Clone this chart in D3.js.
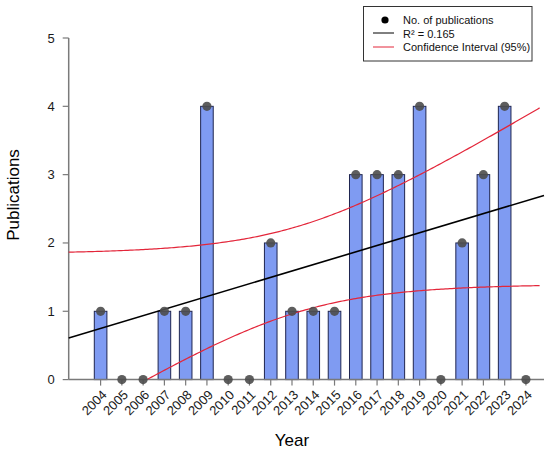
<!DOCTYPE html>
<html>
<head>
<meta charset="utf-8">
<script src="https://cdn.jsdelivr.net/npm/d3@7"></script>
<style>
  body { margin: 0; background: #fff; }
  text { font-family: Arial, "Liberation Sans", sans-serif; }
</style>
</head>
<body>
<svg id="chart" width="550" height="452"></svg>
<script>
var years = [2004, 2005, 2006, 2007, 2008, 2009, 2010, 2011, 2012, 2013, 2014,
  2015, 2016, 2017, 2018, 2019, 2020, 2021, 2022, 2023, 2024];
var publications = [1, 0, 0, 1, 1, 4, 0, 0, 2, 1, 1, 1, 3, 3, 3, 4, 0, 2, 3, 4, 0];
var yTicks = [0, 1, 2, 3, 4, 5];
var legendLabels = ["No. of publications", "R\u00b2 = 0.165", "Confidence Interval (95%)"];
// t(0.975, df = 19)
var tValue = 2.093;

var barColor = "#7f9bf2";
var dotColor = "#4d4d4d";
var ciColor = "#e3263a";
var axisColor = "#7a7a7a";

var svg = d3.select("#chart");
var plotLeft = 68.7, plotRight = 544, plotTop = 38, plotBottom = 379.6;

var xBar = d3.scaleLinear().domain([2002.5, 2024.85]).range([plotLeft, plotRight]);
// the fitted line sits on its own continuous axis
var xFit = d3.scaleLinear().domain([2003.5, 2025.2]).range([plotLeft, plotRight]);
var y = d3.scaleLinear().domain([0, 5]).range([plotBottom, plotTop]);

// least squares fit
var n = years.length;
var mx = d3.mean(years);
var my = d3.mean(publications);
var sxx = 0, sxy = 0, syy = 0;
for (var i = 0; i < n; i++) {
  sxx += (years[i] - mx) * (years[i] - mx);
  sxy += (years[i] - mx) * (publications[i] - my);
  syy += (publications[i] - my) * (publications[i] - my);
}
var slope = sxy / sxx;
var intercept = my - slope * mx;
var s = Math.sqrt((syy - (sxy * sxy) / sxx) / (n - 2));

function fit(u) {
  return intercept + slope * u;
}
function halfWidth(u) {
  return tValue * s * Math.sqrt(1 / n + ((u - mx) * (u - mx)) / sxx);
}

var ciPoints = d3.range(2003.5, 2025.001, 0.1).map(function (u) {
  return { u: u, hi: fit(u) + halfWidth(u), lo: fit(u) - halfWidth(u) };
});

// bars
svg.append("g")
  .selectAll("rect")
  .data(years)
  .enter()
  .append("rect")
  .attr("x", function (d) { return xBar(d) - 6.3; })
  .attr("width", 12.6)
  .attr("y", function (d, i) { return y(publications[i]); })
  .attr("height", function (d, i) { return y(0) - y(publications[i]); })
  .style("fill", barColor)
  .style("stroke", "#1f2550")
  .style("stroke-width", 1);

// axes
var yAxis = svg.append("g").attr("transform", "translate(" + plotLeft + ",0)");
yAxis.append("line")
  .attr("y1", plotTop).attr("y2", plotBottom)
  .style("stroke", axisColor).style("stroke-width", 1.5);
yAxis.selectAll(".ytick")
  .data(yTicks)
  .enter()
  .append("line")
  .attr("x1", -6).attr("x2", 0)
  .attr("y1", function (d) { return y(d); })
  .attr("y2", function (d) { return y(d); })
  .style("stroke", axisColor).style("stroke-width", 1.2);
yAxis.selectAll(".ylabel")
  .data(yTicks)
  .enter()
  .append("text")
  .attr("x", -14)
  .attr("y", function (d) { return y(d) + 4.5; })
  .attr("text-anchor", "end")
  .style("font-size", "13px")
  .style("fill", "#1a1a1a")
  .text(function (d) { return d; });

var xAxis = svg.append("g").attr("transform", "translate(0," + plotBottom + ")");
xAxis.append("line")
  .attr("x1", plotLeft).attr("x2", plotRight)
  .style("stroke", axisColor).style("stroke-width", 1.5);
xAxis.selectAll(".xtick")
  .data(years)
  .enter()
  .append("line")
  .attr("x1", function (d) { return xBar(d); })
  .attr("x2", function (d) { return xBar(d); })
  .attr("y1", 0).attr("y2", 6)
  .style("stroke", axisColor).style("stroke-width", 1.2);
xAxis.selectAll(".xlabel")
  .data(years)
  .enter()
  .append("text")
  .attr("text-anchor", "end")
  .attr("transform", function (d) {
    return "translate(" + (xBar(d) + 7) + ",16) rotate(-45)";
  })
  .style("font-size", "13px")
  .style("fill", "#1a1a1a")
  .text(function (d) { return d; });

svg.append("text")
  .attr("x", 292).attr("y", 446)
  .attr("text-anchor", "middle")
  .style("font-size", "17px")
  .text("Year");
svg.append("text")
  .attr("transform", "translate(19,195) rotate(-90)")
  .attr("text-anchor", "middle")
  .style("font-size", "17px")
  .text("Publications");

// confidence band
var upper = d3.line()
  .x(function (d) { return xFit(d.u); })
  .y(function (d) { return y(d.hi); });
var lower = d3.line()
  .defined(function (d) { return d.lo >= 0; })
  .x(function (d) { return xFit(d.u); })
  .y(function (d) { return y(d.lo); });
svg.append("path").attr("d", upper(ciPoints))
  .style("fill", "none").style("stroke", ciColor).style("stroke-width", 1.2);
svg.append("path").attr("d", lower(ciPoints))
  .style("fill", "none").style("stroke", ciColor).style("stroke-width", 1.2);

// regression line
svg.append("line")
  .attr("x1", xFit(xFit.domain()[0]))
  .attr("y1", y(fit(xFit.domain()[0])))
  .attr("x2", xFit(xFit.domain()[1]))
  .attr("y2", y(fit(xFit.domain()[1])))
  .style("stroke", "#000").style("stroke-width", 1.6);

// points
svg.append("g")
  .selectAll("circle")
  .data(years)
  .enter()
  .append("circle")
  .attr("cx", function (d) { return xBar(d); })
  .attr("cy", function (d, i) { return y(publications[i]); })
  .attr("r", 4.6)
  .style("fill", dotColor)
  .style("fill-opacity", 0.9);

// legend
var legend = svg.append("g");
legend.append("rect")
  .attr("x", 363.5).attr("y", 6.5)
  .attr("width", 168.5).attr("height", 54.5)
  .style("fill", "#fff").style("stroke", "#333").style("stroke-width", 1);
legend.append("circle")
  .attr("cx", 385).attr("cy", 20).attr("r", 3.6).style("fill", "#000");
legend.append("line")
  .attr("x1", 373).attr("x2", 394).attr("y1", 33).attr("y2", 33)
  .style("stroke", "#000").style("stroke-width", 1);
legend.append("line")
  .attr("x1", 373).attr("x2", 394).attr("y1", 47).attr("y2", 47)
  .style("stroke", ciColor).style("stroke-width", 1);
legend.selectAll("text")
  .data(legendLabels)
  .enter()
  .append("text")
  .attr("x", 403)
  .attr("y", function (d, i) { return 24 + i * 13.5; })
  .style("font-size", "11px")
  .style("fill", "#111")
  .text(function (d) { return d; });
</script>
</body>
</html>
